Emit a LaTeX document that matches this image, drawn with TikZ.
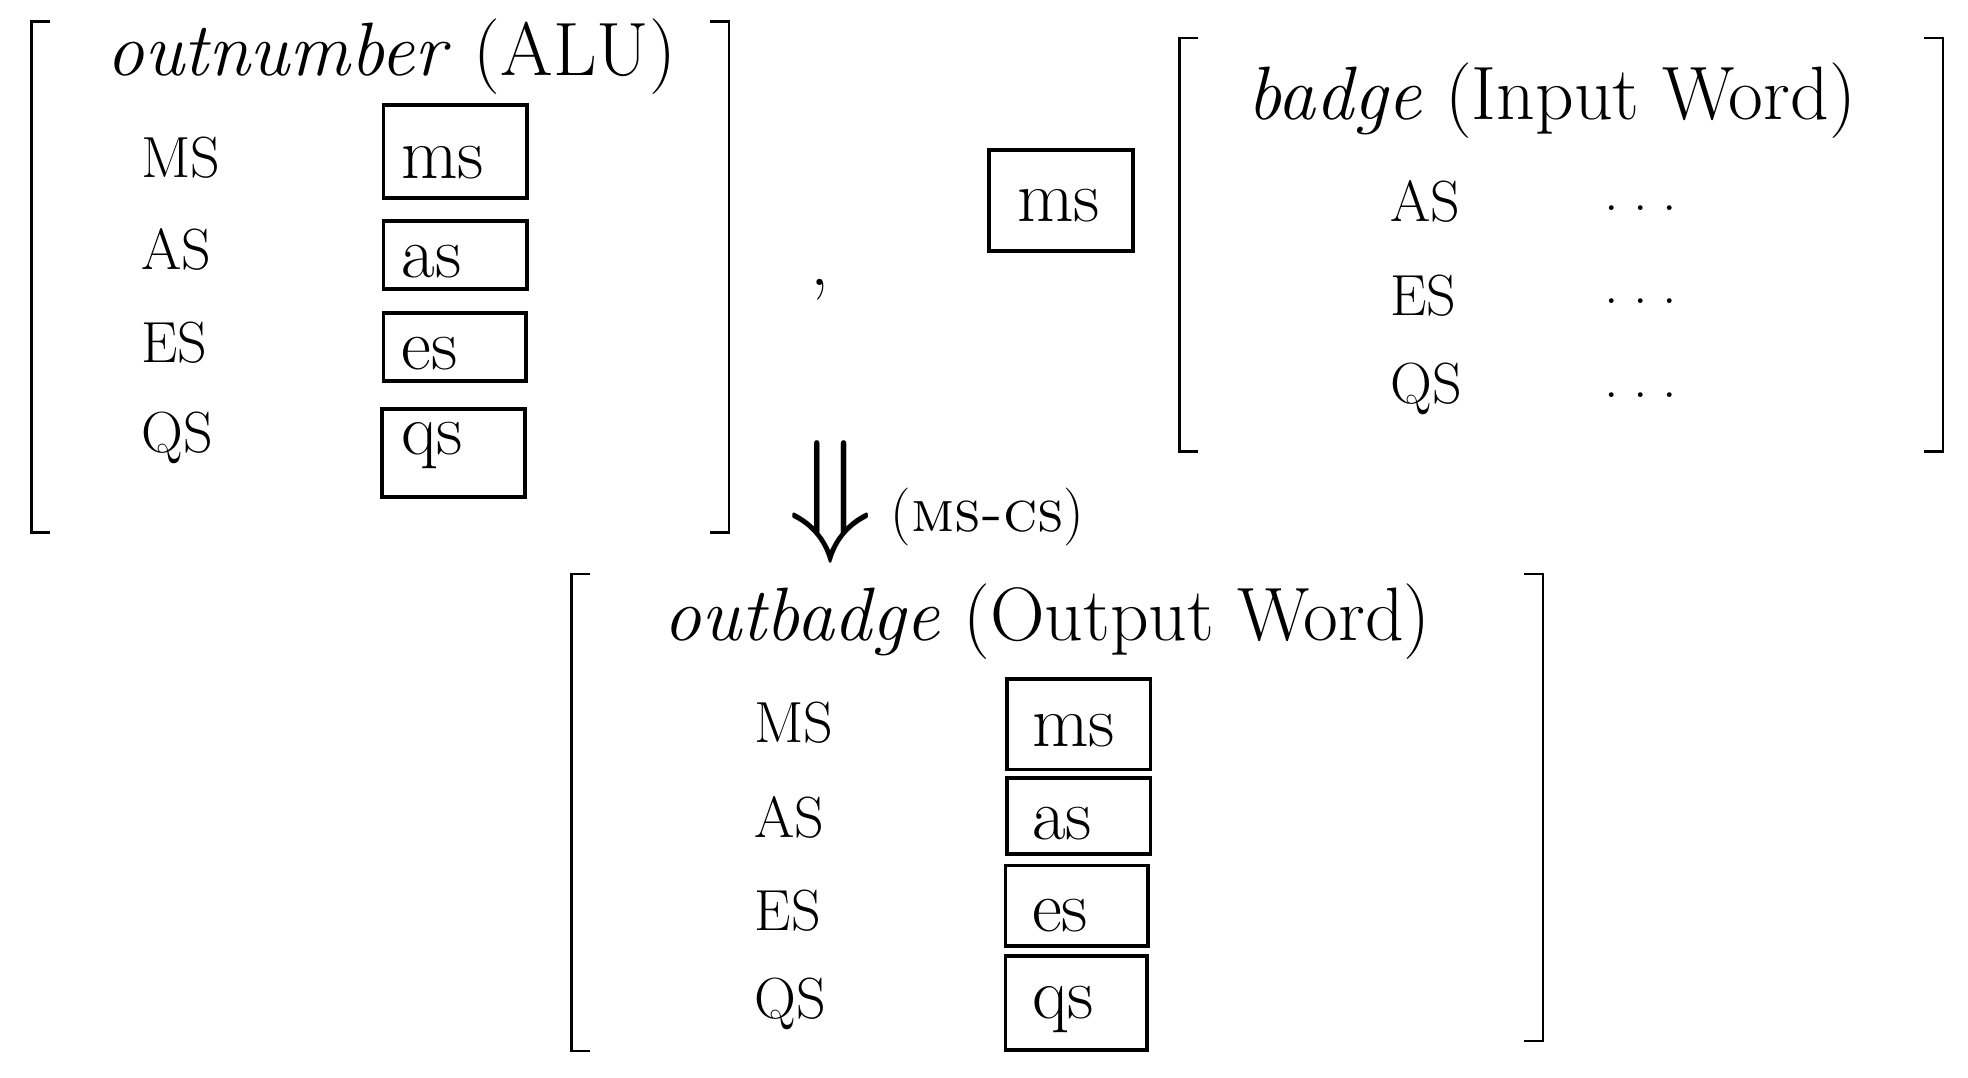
\documentclass[tikz,border=0pt]{standalone}
\usepackage{graphicx}
\begin{document}
\begin{tikzpicture}[x=1pt,y=-1pt,
 lab/.style={font=\fontsize{46}{50}\selectfont,anchor=west,inner sep=0},
 ttl/.style={font=\fontsize{60}{64}\selectfont,inner sep=0},
 val/.style={font=\fontsize{58}{62}\selectfont,inner sep=0,anchor=west},
 bx/.style={draw,line width=3pt},
 brk/.style={line width=2pt}]
\useasboundingbox (0,0) rectangle (1560,854);
% left bracket
\draw[brk] (40,17)--(25,17)--(25,422)--(40,422);
\draw[brk] (563,17)--(578,17)--(578,422)--(563,422);
\node[ttl] (t1) at (310,45) {\textit{outnumber} (ALU)};
\node[lab] (l1) at (112,125) {MS};
\node[lab] (l2) at (112,198) {AS};
\node[lab] (l3) at (112,272) {ES};
\node[lab] (l4) at (112,347) {QS};
\draw[bx] (304,83) rectangle (418,157); \node[val] (v1) at (318,129) {ms};
\draw[bx] (304,175) rectangle (418,229); \node[val] (v2) at (318,207) {as};
\draw[bx] (304,248) rectangle (417,302); \node[val] (v3) at (318,280) {es};
\draw[bx] (303,324) rectangle (416,394); \node[val] (v4) at (318,353) {qs};
\node[ttl] (c) at (650,230) {,};
\draw[bx] (784,119) rectangle (898,199); \node[val] (v5) at (806,163) {ms};
% right bracket
\draw[brk] (950,30)--(935,30)--(935,358)--(950,358);
\draw[brk] (1525,30)--(1540,30)--(1540,358)--(1525,358);
\node[ttl] (t2) at (1230,80) {\textit{badge} (Input Word)};
\node[lab] (r1) at (1102,160) {AS};
\node[lab] (r2) at (1102,234) {ES};
\node[lab] (r3) at (1102,308) {QS};
\node[lab] (d1) at (1272,165) {.\kern0.25em.\kern0.25em.};
\node[lab] (d2) at (1272,239) {.\kern0.25em.\kern0.25em.};
\node[lab] (d3) at (1272,313) {.\kern0.25em.\kern0.25em.};
\node[lab] (ar) at (625,398) {\raisebox{-0.08em}{\scalebox{4.4}{$\Downarrow$}} (\textsc{ms-cs})};
% bottom bracket
\draw[brk] (468,455)--(453,455)--(453,833)--(468,833);
\draw[brk] (1208,455)--(1223,455)--(1223,825)--(1208,825);
\node[ttl] (t3) at (830,493) {\textit{outbadge} (Output Word)};
\node[lab] (b1) at (598,573) {MS};
\node[lab] (b2) at (598,648) {AS};
\node[lab] (b3) at (598,722) {ES};
\node[lab] (b4) at (598,796) {QS};
\draw[bx] (798,538) rectangle (912,610); \node[val] (w1) at (818,579) {ms};
\draw[bx] (798,617) rectangle (912,677); \node[val] (w2) at (818,653) {as};
\draw[bx] (797,686) rectangle (910,750); \node[val] (w3) at (818,726) {es};
\draw[bx] (797,758) rectangle (909,832); \node[val] (w4) at (818,800) {qs};
\end{tikzpicture}
\end{document}
